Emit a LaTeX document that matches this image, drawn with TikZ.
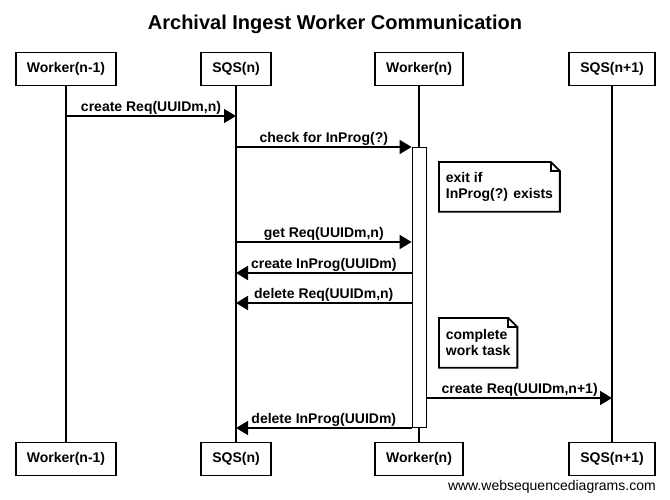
\documentclass[tikz,border=0pt]{standalone}
\usepackage{fontspec}
\setmainfont{Liberation Sans}
\usetikzlibrary{arrows.meta}

\begin{document}
\begin{tikzpicture}[x=1pt,y=-1pt,>={Triangle[length=12pt,width=14pt]},line width=1.8pt,
  actor/.style={draw,fill=white,minimum height=33pt,inner xsep=11pt,font=\fontsize{14}{16}\selectfont\bfseries},
  lbl/.style={above,inner sep=1pt,font=\fontsize{14}{16}\selectfont\bfseries},
  note/.style={anchor=north west,align=left,inner xsep=6pt,minimum height=48pt,font=\fontsize{14}{16}\selectfont\bfseries}]
\useasboundingbox (0,0) rectangle (670,499);

\node[anchor=base,font=\fontsize{20}{24}\selectfont\bfseries] (title) at (335,29) {Archival Ingest Worker Communication};

% participants
\node[actor] (w1) at (66,69)   {Worker(n-1)};
\node[actor] (q1) at (236,69)  {SQS(n)};
\node[actor] (w2) at (419,69)  {Worker(n)};
\node[actor] (q2) at (612,69)  {SQS(n+1)};
\node[actor] (w1b) at (66,459)  {Worker(n-1)};
\node[actor] (q1b) at (236,459) {SQS(n)};
\node[actor] (w2b) at (419,459) {Worker(n)};
\node[actor] (q2b) at (612,459) {SQS(n+1)};

% lifelines
\draw (w1) -- (w1b);
\draw (q1) -- (q1b);
\draw (w2) -- (w2b);
\draw (q2) -- (q2b);

% activation
\node[draw,fill=white,minimum width=14pt,minimum height=280pt,inner sep=0pt] (act) at (419.5,287.5) {};

% message rows
\coordinate (m1) at (0,116);
\coordinate (m2) at (0,147);
\coordinate (m3) at (0,242);
\coordinate (m4) at (0,273);
\coordinate (m5) at (0,303);
\coordinate (m6) at (0,398);
\coordinate (m7) at (0,428);

\path[->] (w1 |- m1)       edge node[lbl] {create Req(UUIDm,n)}     (q1 |- m1)
          (q1 |- m2)       edge node[lbl] {check for InProg(?)}     (act.west |- m2)
          (q1 |- m3)       edge node[lbl] {get Req(UUIDm,n)}        (act.west |- m3)
          (act.west |- m4) edge node[lbl] {create InProg(UUIDm)}    (q1 |- m4)
          (act.west |- m5) edge node[lbl] {delete Req(UUIDm,n)}     (q1 |- m5)
          (act.east |- m6) edge node[lbl] {create Req(UUIDm,n+1)}   (q2 |- m6)
          (act.west |- m7) edge node[lbl] {delete InProg(UUIDm)}    (q1 |- m7);

% notes
\node[note] (n1) at (439,162) {exit if\\InProg(?) exists};
\node[note] (n2) at (439,318) {complete\\work task};
\foreach \n in {n1,n2}{
  \draw (\n.south west) -- (\n.north west) -- ([xshift=-9pt]\n.north east)
        -- ([yshift=-9pt]\n.north east) -- (\n.south east) -- cycle;
  \draw ([xshift=-9pt]\n.north east) |- ([yshift=-9pt]\n.north east);
}

\node[anchor=base east,font=\fontsize{14}{16}\selectfont] (wsd) at (660,490) {www.websequencediagrams.com};
\end{tikzpicture}
\end{document}
